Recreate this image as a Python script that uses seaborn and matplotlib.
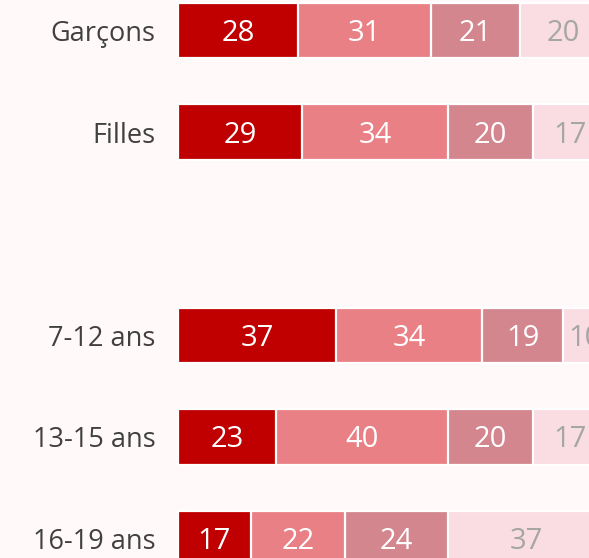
import matplotlib
matplotlib.use("Agg")
import matplotlib.pyplot as plt
import seaborn as sns
import pandas as pd
import numpy as np

categories = ["Garçons", "Filles", " ", "7-12 ans", "13-15 ans", "16-19 ans"]
seg1 = [28, 29, np.nan, 37, 23, 17]
seg2 = [31, 34, np.nan, 34, 40, 22]
seg3 = [21, 20, np.nan, 19, 20, 24]
seg4 = [20, 17, np.nan, 10, 17, 37]

colors = ["#C00000", "#E98086", "#D4868F", "#FADDE3"]
text_colors = ["white", "white", "white", "#A6A6A6"]
bg = "#FFFAF9"

sns.set_theme(style="white")
plt.rcParams["font.family"] = ["Open Sans", "DejaVu Sans"]

segs = [seg1, seg2, seg3, seg4]
df = pd.DataFrame({"cat": categories})
cum = np.zeros(len(categories))
for i, s in enumerate(segs):
    cum = cum + np.array(s, dtype=float)
    df[f"c{i}"] = cum

W, H = 589, 558
fig = plt.figure(figsize=(W / 100, H / 100), dpi=100, facecolor=bg)
left_px = 178
ax = fig.add_axes([left_px / W, 0, 1 - left_px / W, 1])
ax.set_facecolor(bg)

for i in range(3, -1, -1):
    sns.barplot(data=df, x=f"c{i}", y="cat", order=categories, color=colors[i],
                saturation=1, width=0.545, edgecolor="white", linewidth=1.6, ax=ax,
                orient="y")

# value labels
for r, cat in enumerate(categories):
    start = 0.0
    for i, s in enumerate(segs):
        v = s[r]
        if np.isnan(v):
            continue
        ax.text(start + v / 2, r + 0.03, f"{int(v)}", ha="center", va="center",
                color=text_colors[i], fontsize=21)
        start += v

px_per_unit = 4.28
ax.set_xlim(0, (W - left_px) / px_per_unit)
pitch = 101.6
top = -30.5 / pitch
ax.set_ylim(top + H / pitch, top)

ax.set_xlabel("")
ax.set_ylabel("")
ax.set_xticks([])
ax.tick_params(axis="y", length=0, pad=16, labelsize=19.5, labelcolor="#404040")
for sp in ax.spines.values():
    sp.set_visible(False)

fig.savefig("out.png", dpi=100, facecolor=bg)
